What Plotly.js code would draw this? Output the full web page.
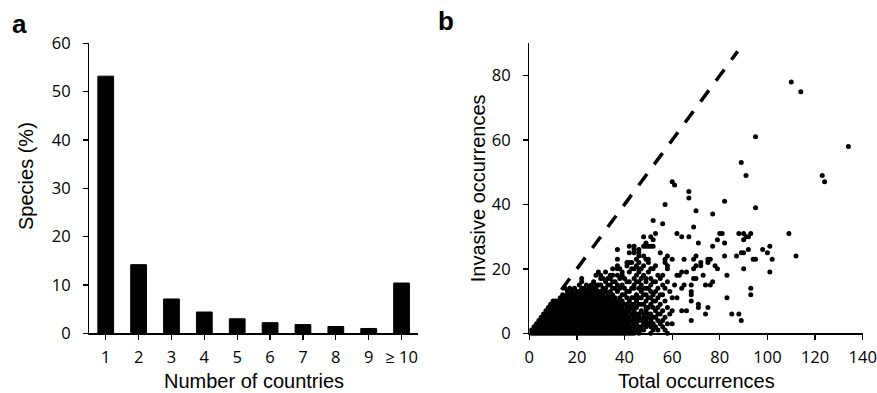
<!DOCTYPE html>
<html>
<head>
<meta charset="utf-8">
<script src="https://cdn.plot.ly/plotly-3.0.1.min.js"></script>
<style>html,body{margin:0;padding:0;background:#fff;}#chart{width:877px;height:393px;}</style>
</head>
<body>
<div id="chart"></div>
<script>
// ---- Panel a: share of species by number of countries ----
const countryCategories = ['1','2','3','4','5','6','7','8','9','≥ 10'];
const speciesPercent = [53.2, 14.2, 7.1, 4.4, 3.0, 2.2, 1.8, 1.4, 1.0, 10.4];

// ---- Panel b: invasive vs total occurrences (one entry per total value, listing the invasive values seen) ----
const totalOccurrenceColumns = [
  1,2,3,4,5,6,7,8,9,10,11,12,13,14,15,16,17,18,19,20,
  21,22,23,24,25,26,27,28,29,30,31,32,33,34,35,36,37,38,39,40,
  41,42,43,44,45,46,47,48,49,50,51,52,53,54,55,56,57,58,59,60,
  61,62,63,64,65,66,67,68,69,70,71,72,73,74,75,76,77,78,79,80,
  81,82,83,85,87,88,89,90,91,92,93,94,95,98,100,101,102,109,110,112,
  114,123,124,134
];
const invasiveOccurrenceColumns = [
  [0,1],
  [0,1,2],
  [0,1,2,3],
  [0,1,2,3,4],
  [0,1,2,3,4,5],
  [0,1,2,3,4,5,6],
  [0,1,2,3,4,5,6,7],
  [0,1,2,3,4,5,6,7,8],
  [0,1,2,3,4,5,6,7,8,9],
  [0,1,2,3,4,5,6,7,8,9,10],
  [0,1,2,3,4,5,6,7,8,9,10],
  [0,1,2,3,4,5,6,7,8,9,10],
  [0,1,2,3,4,5,6,7,8,9,10,11],
  [0,1,2,3,4,5,6,7,8,9,10,11,12],
  [0,1,2,3,4,5,6,7,8,9,10,11,14],
  [0,1,2,3,4,5,6,7,8,9,10,11,12,13],
  [0,1,2,3,4,5,6,7,8,9,10,11,12,14],
  [0,1,2,3,4,5,6,7,8,9,10,11,12,13],
  [0,1,2,3,4,5,6,7,8,9,10,11,12,14],
  [0,1,2,3,4,5,6,7,8,9,10,11,12,13],
  [0,1,2,3,4,5,6,7,8,9,10,11,12,13,15],
  [0,1,2,3,4,5,6,7,8,9,10,11,12,14,16,17],
  [0,1,2,3,4,5,6,7,8,9,10,11,12,13,14],
  [0,1,2,3,4,5,6,7,8,9,10,11,12,13,15],
  [0,1,2,3,4,5,6,7,8,9,10,11,12,13,14],
  [0,1,2,3,4,5,6,7,8,9,10,11,12,13,14,15],
  [0,1,2,3,4,5,6,7,8,9,10,11,12,13,14,16],
  [0,1,2,3,4,5,6,7,8,9,10,11,12,13,14,15,18],
  [0,1,2,3,4,5,6,7,8,9,10,11,12,13,15,19],
  [0,1,2,3,4,5,6,7,8,9,10,11,12,13,15,17,18],
  [0,1,2,3,4,5,6,7,8,9,10,11,12,14,17],
  [0,1,2,3,4,5,6,7,8,9,10,11,13,14,16,19],
  [0,1,2,3,4,5,6,7,8,9,10,11,12,15,17],
  [0,1,2,3,4,5,6,7,8,9,10,11,13,15,17,18],
  [0,1,2,3,4,5,6,7,8,9,10,12,14,16,18,20],
  [0,1,2,3,4,5,6,7,8,9,10,11,14,16],
  [0,1,2,3,4,5,6,7,8,9,10,13,15,18,20,21,23,26],
  [0,1,2,3,4,5,6,7,8,9,11,14,17,20],
  [0,1,2,3,4,5,6,7,8,10,12,15,18,19],
  [0,1,2,3,4,5,6,7,9,12,14,17],
  [0,1,2,3,4,5,6,8,9,11,13,16,21,22],
  [0,1,2,3,4,5,7,8,10,13,16,19,22,25,27],
  [0,1,2,4,6,8,9,11,14,20,22],
  [0,2,3,5,7,9,11,14,15,17,20,25,26,27],
  [1,3,4,6,8,10,12,16,18,21,23],
  [0,2,4,5,6,9,11,14,16,19,20,22,24,25,26],
  [1,2,4,7,9,11,13,15,17,20],
  [1,3,5,6,9,12,14,18,21,24,27,30],
  [2,4,7,8,10,12,14,16,17,23,27,28],
  [3,5,6,8,11,14,19,22,23,27],
  [0,2,4,6,9,11,13,15,17,20,27,30],
  [1,3,5,8,10,12,16,20,27,29,35],
  [2,5,7,10,13,16,21,31],
  [1,4,6,8,11,14,18],
  [3,6,9,12,17,25],
  [2,4,7,12,15,18,34],
  [1,5,10,14,22,23,40],
  [0,3,8,16,20,21,24],
  [6,13],
  [3,7,11,23,47],
  [15,46],
  [11,18,31],
  [18],
  [7,14,19,30],
  [15,23],
  [7,19],
  [30,42,44],
  [4,10,12,13,15],
  [17,20,23,33],
  [17,21,24,38],
  [8,9,28],
  [21,22],
  [18],
  [6,15],
  [8,22,23],
  [15,23],
  [16,27,37],
  [21],
  [20,29],
  [31],
  [31],
  [24,28,41],
  [11,18],
  [6],
  [24],
  [6,31],
  [4,25,53],
  [20,25,29,31],
  [30,49],
  [26,30],
  [12,14,31],
  [23],
  [23,39,61],
  [26],
  [25],
  [19,27],
  [23],
  [31],
  [78],
  [24],
  [75],
  [49],
  [47],
  [58]
];
// 1:1 reference line
const refLineTotal = [13.5, 87.5];
const refLineInvasive = [13.5, 87.5];

// tick labels
const speciesTicks = [0,10,20,30,40,50,60];
const totalTicks = [0,20,40,60,80,100,120,140];
const invasiveTicks = [0,20,40,60,80];

// build scatter arrays
const scatterX = [], scatterY = [];
totalOccurrenceColumns.forEach((t, i) => {
  invasiveOccurrenceColumns[i].forEach(v => { scatterX.push(t); scatterY.push(v); });
});

const W = 877, H = 393;
const px = v => v / W;
const py = v => 1 - v / H;

const tickFont = {family: 'Open Sans, Lato, sans-serif', size: 16.5, color: '#000'};
const titleFont = {family: 'Liberation Sans, Arial, sans-serif', size: 20, color: '#000'};
const axisCommon = {
  showline: true, linecolor: '#000', linewidth: 1.3,
  ticks: 'outside', ticklen: 5, tickwidth: 1.3, tickcolor: '#000',
  tickfont: tickFont, showgrid: false, zeroline: false, fixedrange: true,
  automargin: false
};

const traces = [
  {type: 'bar', x: countryCategories, y: speciesPercent, xaxis: 'x', yaxis: 'y',
   marker: {color: '#000', line: {color: '#000', width: 1}}, hoverinfo: 'x+y'},
  {type: 'scatter', mode: 'markers', x: scatterX, y: scatterY, xaxis: 'x2', yaxis: 'y2',
   marker: {color: '#000', size: 5, line: {width: 0}}, cliponaxis: false},
  {type: 'scatter', mode: 'lines', x: refLineTotal, y: refLineInvasive, xaxis: 'x2', yaxis: 'y2',
   line: {color: '#000', width: 3.5, dash: '14px,12px'}}
];

const yDom = [py(333.3), py(43.3)];
const layout = {
  width: W, height: H,
  margin: {l: 0, r: 0, t: 0, b: 0},
  paper_bgcolor: '#fff', plot_bgcolor: '#fff',
  showlegend: false,
  bargap: 0.52,
  xaxis: Object.assign({}, axisCommon, {domain: [px(89.3), px(418)], anchor: 'y', type: 'category',
    range: [-0.5, 9.5], ticklabelstandoff: 4}),
  yaxis: Object.assign({}, axisCommon, {domain: yDom, anchor: 'x', range: [0, 60],
    tickvals: speciesTicks, ticklabelstandoff: 9}),
  xaxis2: Object.assign({}, axisCommon, {domain: [px(529.3), px(862.7)], anchor: 'y2',
    range: [0, 140], tickvals: totalTicks, ticklabelstandoff: 4}),
  yaxis2: Object.assign({}, axisCommon, {domain: yDom, anchor: 'x2', range: [0, 90],
    tickvals: invasiveTicks, ticklabelstandoff: 9}),
  annotations: [
    {text: 'Number of countries', x: px(253.5), y: py(381), xref: 'paper', yref: 'paper',
     xanchor: 'center', yanchor: 'middle', showarrow: false, font: titleFont},
    {text: 'Species (%)', x: px(26), y: py(176), xref: 'paper', yref: 'paper', textangle: -90,
     xanchor: 'center', yanchor: 'middle', showarrow: false, font: titleFont},
    {text: 'Total occurrences', x: px(696.3), y: py(381), xref: 'paper', yref: 'paper',
     xanchor: 'center', yanchor: 'middle', showarrow: false, font: titleFont},
    {text: 'Invasive occurrences', x: px(478), y: py(188.3), xref: 'paper', yref: 'paper', textangle: -90,
     xanchor: 'center', yanchor: 'middle', showarrow: false, font: titleFont},
    {text: '<b>a</b>', x: px(19.7), y: py(24), xref: 'paper', yref: 'paper',
     xanchor: 'center', yanchor: 'middle', showarrow: false,
     font: {family: 'Liberation Sans, Arial, sans-serif', size: 26, color: '#000'}},
    {text: '<b>b</b>', x: px(446), y: py(21), xref: 'paper', yref: 'paper',
     xanchor: 'center', yanchor: 'middle', showarrow: false,
     font: {family: 'Liberation Sans, Arial, sans-serif', size: 26, color: '#000'}}
  ]
};

Plotly.newPlot('chart', traces, layout, {staticPlot: true, displayModeBar: false});
</script>
</body>
</html>
